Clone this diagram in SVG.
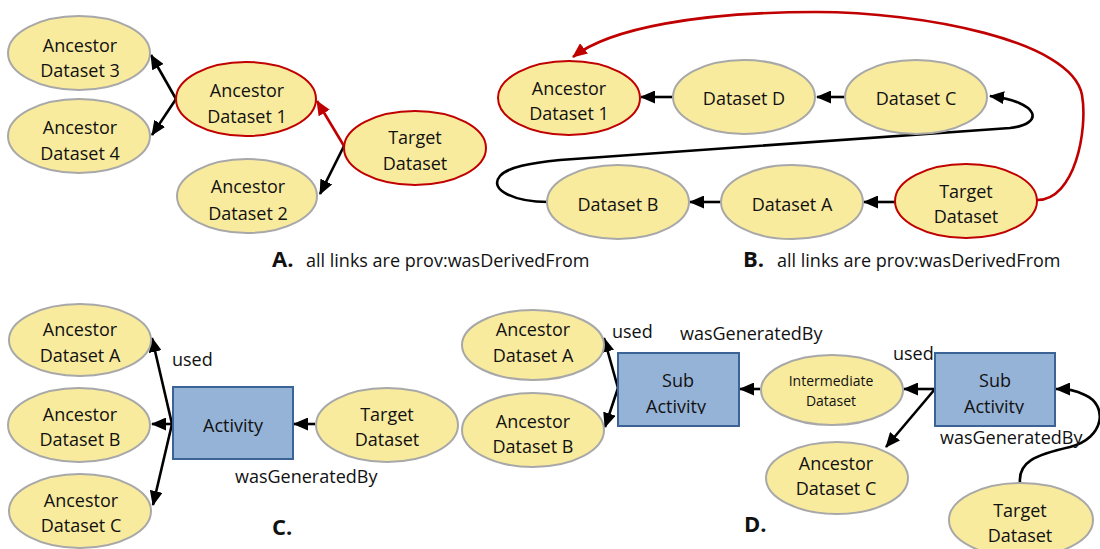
<svg xmlns="http://www.w3.org/2000/svg" width="1100" height="549" viewBox="0 0 1100 549">
<style>
.n{fill:#f9eb9e;stroke:#a8a8a8;stroke-width:2}
.r{fill:#f9eb9e;stroke:#c00000;stroke-width:2}
.b{fill:#95b3d7;stroke:#3b6396;stroke-width:2}
text{font-family:"Open Sans","Liberation Sans",sans-serif;font-size:18px;fill:#111;text-anchor:middle}
.sm{font-size:14px}
.lb{text-anchor:start}
.cap{font-weight:bold;font-size:22px;text-anchor:start}
.k{fill:none;stroke:#000;stroke-width:2.6}
.kr{fill:none;stroke:#c00000;stroke-width:2.6}
</style>
<defs>
<marker id="a" markerUnits="userSpaceOnUse" markerWidth="15" markerHeight="13" refX="14" refY="6.5" orient="auto"><path d="M0,0 L15,6.5 L0,13 Z" fill="#000"/></marker>
<marker id="ar" markerUnits="userSpaceOnUse" markerWidth="15" markerHeight="13" refX="14" refY="6.5" orient="auto"><path d="M0,0 L15,6.5 L0,13 Z" fill="#c00000"/></marker>
<clipPath id="c1"><rect x="600" y="340" width="160" height="74"/></clipPath>
<clipPath id="c2"><rect x="920" y="340" width="160" height="74"/></clipPath>
</defs>

<g id="connectors">
<line class="k" x1="176" y1="99" x2="151" y2="55" marker-end="url(#a)"/>
<line class="k" x1="176" y1="99" x2="152" y2="135" marker-end="url(#a)"/>
<line class="kr" x1="344" y1="146" x2="317" y2="101" marker-end="url(#ar)"/>
<line class="k" x1="344" y1="146" x2="320" y2="194" marker-end="url(#a)"/>

<line class="k" x1="673" y1="97" x2="641" y2="97" marker-end="url(#a)"/>
<line class="k" x1="845" y1="97" x2="817" y2="97" marker-end="url(#a)"/>
<line class="k" x1="722" y1="202" x2="690" y2="202" marker-end="url(#a)"/>
<line class="k" x1="895" y1="202" x2="864" y2="202" marker-end="url(#a)"/>
<path class="k" d="M548,202 C515,202 488,190 500,176 C508,167 530,163 560,160 L1010,128 C1045,124 1040,102 990,96" marker-end="url(#a)"/>
<path class="kr" d="M1037,200 C1075,200 1088,130 1082,95 C1072,40 920,12 816,12 C700,12 610,28 573,57" marker-end="url(#ar)"/>

<line class="k" x1="172" y1="424" x2="152" y2="338" marker-end="url(#a)"/>
<line class="k" x1="172" y1="424" x2="152" y2="424" marker-end="url(#a)"/>
<line class="k" x1="172" y1="424" x2="153" y2="505" marker-end="url(#a)"/>
<line class="k" x1="315" y1="424" x2="294" y2="424" marker-end="url(#a)"/>

<line class="k" x1="618" y1="388" x2="604" y2="338" marker-end="url(#a)"/>
<line class="k" x1="618" y1="388" x2="605" y2="427" marker-end="url(#a)"/>
<line class="k" x1="760" y1="389" x2="740" y2="389" marker-end="url(#a)"/>
<line class="k" x1="935" y1="389" x2="904" y2="389" marker-end="url(#a)"/>
<line class="k" x1="935" y1="389" x2="886" y2="447" marker-end="url(#a)"/>
<path class="k" d="M1020,483 C1018,462 1035,455 1070,447 C1105,438 1108,405 1085,395 C1075,390 1068,389 1056,389" marker-end="url(#a)"/>
</g>

<g id="A_anc3"><ellipse class="n" cx="79" cy="53" rx="71" ry="37"/><text x="80" y="52">Ancestor</text><text x="80" y="77">Dataset 3</text></g>
<g id="A_anc4"><ellipse class="n" cx="79" cy="136" rx="71" ry="37"/><text x="80" y="134">Ancestor</text><text x="80" y="160">Dataset 4</text></g>
<g id="A_anc1"><ellipse class="r" cx="246" cy="99" rx="70" ry="37"/><text x="247" y="97">Ancestor</text><text x="247" y="123">Dataset 1</text></g>
<g id="A_anc2"><ellipse class="n" cx="247" cy="196" rx="70" ry="37"/><text x="248" y="193">Ancestor</text><text x="248" y="220">Dataset 2</text></g>
<g id="A_target"><ellipse class="r" cx="415" cy="148" rx="71" ry="37"/><text x="415" y="144">Target</text><text x="415" y="170">Dataset</text></g>
<g id="A_label"><text class="cap" x="272" y="267">A.</text><text class="lb" x="306" y="267">all links are prov:wasDerivedFrom</text></g>

<g id="B_anc1"><ellipse class="r" cx="569" cy="98" rx="71" ry="37"/><text x="569" y="95">Ancestor</text><text x="569" y="120">Dataset 1</text></g>
<g id="B_d"><ellipse class="n" cx="744" cy="97" rx="71" ry="37"/><text x="744" y="105">Dataset D</text></g>
<g id="B_c"><ellipse class="n" cx="916" cy="97" rx="71" ry="37"/><text x="916" y="105">Dataset C</text></g>
<g id="B_b"><ellipse class="n" cx="618" cy="202" rx="71" ry="37"/><text x="618" y="211">Dataset B</text></g>
<g id="B_a"><ellipse class="n" cx="792" cy="202" rx="71" ry="37"/><text x="792" y="211">Dataset A</text></g>
<g id="B_target"><ellipse class="r" cx="966" cy="201" rx="71" ry="37"/><text x="966" y="198">Target</text><text x="966" y="223">Dataset</text></g>
<g id="B_label"><text class="cap" x="743" y="267">B.</text><text class="lb" x="777" y="267">all links are prov:wasDerivedFrom</text></g>

<g id="C_anca"><ellipse class="n" cx="80" cy="340" rx="71" ry="36"/><text x="80" y="336">Ancestor</text><text x="80" y="362">Dataset A</text></g>
<g id="C_ancb"><ellipse class="n" cx="79" cy="425" rx="71" ry="37"/><text x="80" y="421">Ancestor</text><text x="80" y="446">Dataset B</text></g>
<g id="C_ancc"><ellipse class="n" cx="80" cy="511" rx="71" ry="37"/><text x="81" y="507">Ancestor</text><text x="81" y="532">Dataset C</text></g>
<g id="C_activity"><rect class="b" x="173" y="387" width="120" height="72"/><text x="233" y="432">Activity</text></g>
<g id="C_target"><ellipse class="n" cx="387" cy="425" rx="71" ry="37"/><text x="387" y="421">Target</text><text x="387" y="446">Dataset</text></g>
<g id="C_labels"><text class="lb" x="172" y="366">used</text><text class="lb" x="235" y="483">wasGeneratedBy</text><text class="cap" x="272" y="535">C.</text></g>

<g id="D_anca"><ellipse class="n" cx="533" cy="345" rx="71" ry="35"/><text x="533" y="336">Ancestor</text><text x="533" y="362">Dataset A</text></g>
<g id="D_ancb"><ellipse class="n" cx="533" cy="430" rx="71" ry="37"/><text x="533" y="428">Ancestor</text><text x="533" y="453">Dataset B</text></g>
<g id="D_sub1"><rect class="b" x="618" y="353" width="121" height="73"/><g clip-path="url(#c1)"><text x="678" y="387">Sub</text><text x="676" y="413">Activity</text></g></g>
<g id="D_inter"><ellipse class="n" cx="832" cy="390" rx="71" ry="35"/><text class="sm" x="831" y="386">Intermediate</text><text class="sm" x="831" y="406">Dataset</text></g>
<g id="D_sub2"><rect class="b" x="935" y="353" width="120" height="73"/><g clip-path="url(#c2)"><text x="995" y="387">Sub</text><text x="994" y="413">Activity</text></g></g>
<g id="D_ancc"><ellipse class="n" cx="837" cy="478" rx="71" ry="36"/><text x="836" y="470">Ancestor</text><text x="836" y="495">Dataset C</text></g>
<g id="D_target"><ellipse class="n" cx="1021" cy="520" rx="72" ry="37"/><text x="1020" y="517">Target</text><text x="1020" y="542">Dataset</text></g>
<g id="D_labels"><text class="lb" x="612" y="338">used</text><text class="lb" x="680" y="340">wasGeneratedBy</text><text class="lb" x="893" y="360">used</text><text class="lb" x="940" y="444">wasGeneratedBy</text><text class="cap" x="744" y="532">D.</text></g>
</svg>
